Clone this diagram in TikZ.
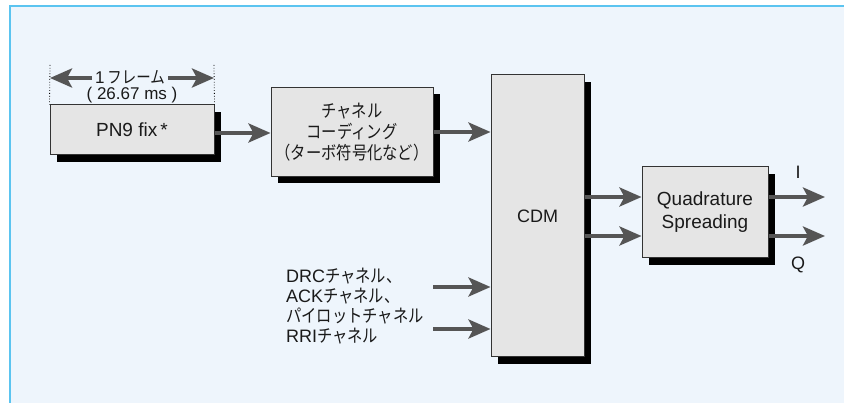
\documentclass[tikz,border=0pt]{standalone}
\usepackage{fontspec}
\setmainfont{Liberation Sans}
\newfontfamily\jp{Noto Sans CJK JP}[FakeStretch=0.85]
\usetikzlibrary{arrows.meta,shadows}
\definecolor{bgblue}{HTML}{EEF5FC}
\definecolor{framecol}{HTML}{5BC4F0}
\definecolor{boxfill}{HTML}{E5E5E5}
\definecolor{boxline}{HTML}{333333}
\definecolor{arrowgray}{HTML}{555555}
\definecolor{txt}{HTML}{1A1A1A}
\tikzset{
  blk/.style={draw=boxline, line width=1pt, fill=boxfill, text=txt,
    drop shadow={shadow xshift=7pt, shadow yshift=-7pt, fill=black, opacity=1},
    align=center, inner sep=0pt, font=\fontsize{18}{21}\selectfont},
  flow/.style={draw=arrowgray, line width=4pt,
    -{Stealth[length=22pt,width=19pt,inset=5pt]}},
  flowboth/.style={draw=arrowgray, line width=4pt,
    {Stealth[length=22pt,width=19pt,inset=5pt]}-{Stealth[length=22pt,width=19pt,inset=5pt]}},
  lbl/.style={text=txt, inner sep=0pt, font=\fontsize{18}{20}\selectfont},
}
\begin{document}
\begin{tikzpicture}[x=1pt,y=-1pt]
\useasboundingbox (0,0) rectangle (844,403);
\fill[white] (0,0) rectangle (844,403);
\fill[bgblue] (10,6) rectangle (844,403);
\draw[framecol, line width=2pt] (10,403) -- (10,6) -- (844,6);

% boxes
\node[blk, minimum width=164pt, minimum height=50pt, font=\fontsize{19}{21}\selectfont] (pn9) at (132,130) {PN9 fix\,*};
\node[blk, minimum width=162pt, minimum height=89pt] (chan) at (352,132)
  {{\jp チャネル}\\{\jp コーディング}\\{\jp （ターボ符号化など）}};
\node[blk, minimum width=93pt, minimum height=282pt] (cdm) at (537.5,216) {CDM};
\node[blk, minimum width=126pt, minimum height=91pt, font=\fontsize{19}{23}\selectfont] (quad) at (705,212.5)
  {Quadrature\\Spreading};

% frame length indicator
\coordinate (fl) at (50,65);
\coordinate (fr) at (214,65);
\draw[dotted, line width=0.8pt] (fl) -- (pn9.north west);
\draw[dotted, line width=0.8pt] (fr) -- (pn9.north east);
\coordinate (al) at (50,78);
\coordinate (ar) at (214,78);
\draw[flowboth] (al) -- (ar);
\node[lbl, fill=bgblue, inner xsep=3pt, inner ysep=0pt, font=\fontsize{17}{18}\selectfont] (frame) at (130,77) {1\,{\jp フレーム}};
\node[lbl, font=\fontsize{17}{18}\selectfont] (ms) at (132,95) {( 26.67 ms )};

% main flow
\draw[flow] (pn9.east |- 0,133) -- (chan.west |- 0,133);
\draw[flow] (chan.east |- 0,132) -- (cdm.west |- 0,132);

% side inputs
\node[lbl, anchor=west, align=left, font=\fontsize{18}{20}\selectfont] (side) at (286,306.5)
  {DRC{\jp チャネル、}\\ACK{\jp チャネル、}\\{\jp パイロットチャネル}\\RRI{\jp チャネル}};
\coordinate (s1) at (433,287);
\coordinate (s2) at (433,329);
\draw[flow] (s1) -- (cdm.west |- s1);
\draw[flow] (s2) -- (cdm.west |- s2);

% CDM to quadrature
\draw[flow] (cdm.east |- 0,197) -- (quad.west |- 0,197);
\draw[flow] (cdm.east |- 0,236) -- (quad.west |- 0,236);

% outputs
\coordinate (oi) at (825,197);
\coordinate (oq) at (825,236);
\draw[flow] (quad.east |- oi) -- (oi);
\draw[flow] (quad.east |- oq) -- (oq);
\node[lbl] (ilbl) at (798,172) {I};
\node[lbl] (qlbl) at (798,265) {Q};
\end{tikzpicture}
\end{document}
